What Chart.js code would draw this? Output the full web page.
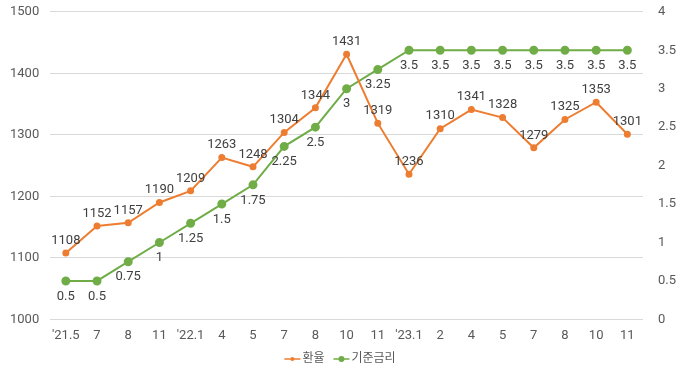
<!DOCTYPE html>
<html>
<head>
<meta charset="utf-8">
<script src="https://cdn.jsdelivr.net/npm/chart.js"></script>
<style>
  body { margin: 0; background: #fff; }
  #wrap { width: 680px; height: 375px; }
</style>
</head>
<body>
<div id="wrap"><canvas id="rateChart" width="680" height="375"></canvas></div>
<script>
const months = ["'21.5", "7", "8", "11", "'22.1", "4", "5", "7", "8", "10", "11", "'23.1", "2", "4", "5", "7", "8", "10", "11"];
const exchangeRate = [1108, 1152, 1157, 1190, 1209, 1263, 1248, 1304, 1344, 1431, 1319, 1236, 1310, 1341, 1328, 1279, 1325, 1353, 1301];
const baseRate = [0.5, 0.5, 0.75, 1, 1.25, 1.5, 1.75, 2.25, 2.5, 3, 3.25, 3.5, 3.5, 3.5, 3.5, 3.5, 3.5, 3.5, 3.5];

const orange = "#ED7D31";
const green = "#70AD47";
const fontFamily = "Roboto, 'Noto Sans CJK KR', sans-serif";
const textColor = "#595959";

// value labels: orange above, green below
const valueLabels = {
    id: "valueLabels",
    afterDatasetsDraw(chart) {
        const ctx = chart.ctx;
        ctx.save();
        ctx.font = "13px " + fontFamily;
        ctx.fillStyle = "#404040";
        ctx.textAlign = "center";
        chart.data.datasets.forEach((ds, i) => {
            const meta = chart.getDatasetMeta(i);
            meta.data.forEach((pt, j) => {
                const v = ds.data[j];
                if (i === 0) {
                    ctx.textBaseline = "bottom";
                    ctx.fillText(String(v), pt.x, pt.y - 6);
                } else {
                    ctx.textBaseline = "top";
                    ctx.fillText(String(v), pt.x, pt.y + 9);
                }
            });
        });
        ctx.restore();
    }
};

// legend drawn by hand: short line with a dot, then the name
const lineLegend = {
    id: "lineLegend",
    afterDraw(chart) {
        const ctx = chart.ctx;
        const y = 359;
        ctx.save();
        ctx.font = "12px " + fontFamily;
        ctx.textBaseline = "middle";
        ctx.textAlign = "left";
        const items = chart.data.datasets.map((ds, i) => ({
            text: ds.label, color: ds.borderColor, r: i === 0 ? 2 : 3
        }));
        const lineW = 16, gapAfterLine = 2, gapItems = 9;
        let total = 0;
        items.forEach((it, i) => {
            total += lineW + gapAfterLine + ctx.measureText(it.text).width;
            if (i < items.length - 1) total += gapItems;
        });
        let x = chart.width / 2 - total / 2;
        items.forEach(it => {
            ctx.strokeStyle = it.color;
            ctx.lineWidth = 1.5;
            ctx.beginPath();
            ctx.moveTo(x, y);
            ctx.lineTo(x + lineW, y);
            ctx.stroke();
            ctx.fillStyle = it.color;
            ctx.beginPath();
            ctx.arc(x + lineW / 2, y, it.r, 0, Math.PI * 2);
            ctx.fill();
            x += lineW + gapAfterLine;
            ctx.fillStyle = textColor;
            ctx.fillText(it.text, x, y);
            x += ctx.measureText(it.text).width + gapItems;
        });
        ctx.restore();
    }
};

new Chart(document.getElementById("rateChart"), {
    type: "line",
    data: {
        labels: months,
        datasets: [
            {
                label: "환율",
                data: exchangeRate,
                borderColor: orange,
                backgroundColor: orange,
                borderWidth: 2,
                pointRadius: 2.5,
                pointHoverRadius: 2.5,
                yAxisID: "y",
                tension: 0
            },
            {
                label: "기준금리",
                data: baseRate,
                borderColor: green,
                backgroundColor: green,
                borderWidth: 2,
                pointRadius: 3.5,
                pointHoverRadius: 3.5,
                yAxisID: "y1",
                tension: 0
            }
        ]
    },
    options: {
        responsive: false,
        animation: false,
        layout: { padding: { top: 1, left: 6, right: 0, bottom: 22 } },
        plugins: {
            tooltip: { enabled: false },
            legend: { display: false }
        },
        scales: {
            x: {
                offset: true,
                grid: { display: false, drawTicks: false },
                border: { display: false },
                ticks: {
                    color: textColor,
                    font: { size: 13, family: fontFamily },
                    maxRotation: 0,
                    autoSkip: false,
                    padding: 9
                }
            },
            y: {
                position: "left",
                min: 1000,
                max: 1500,
                ticks: {
                    stepSize: 100,
                    color: textColor,
                    font: { size: 13, family: fontFamily },
                    padding: 4,
                    callback: v => String(v)
                },
                grid: { color: "#d9d9d9", drawTicks: true, tickLength: 7, tickColor: "rgba(0,0,0,0)" },
                border: { display: false }
            },
            y1: {
                position: "right",
                min: 0,
                max: 4,
                ticks: {
                    stepSize: 0.5,
                    color: textColor,
                    font: { size: 13, family: fontFamily },
                    padding: 4,
                    callback: v => String(v)
                },
                grid: { display: false, drawTicks: true, tickLength: 11, tickColor: "rgba(0,0,0,0)" },
                border: { display: false }
            }
        }
    },
    plugins: [valueLabels, lineLegend]
});
</script>
</body>
</html>
